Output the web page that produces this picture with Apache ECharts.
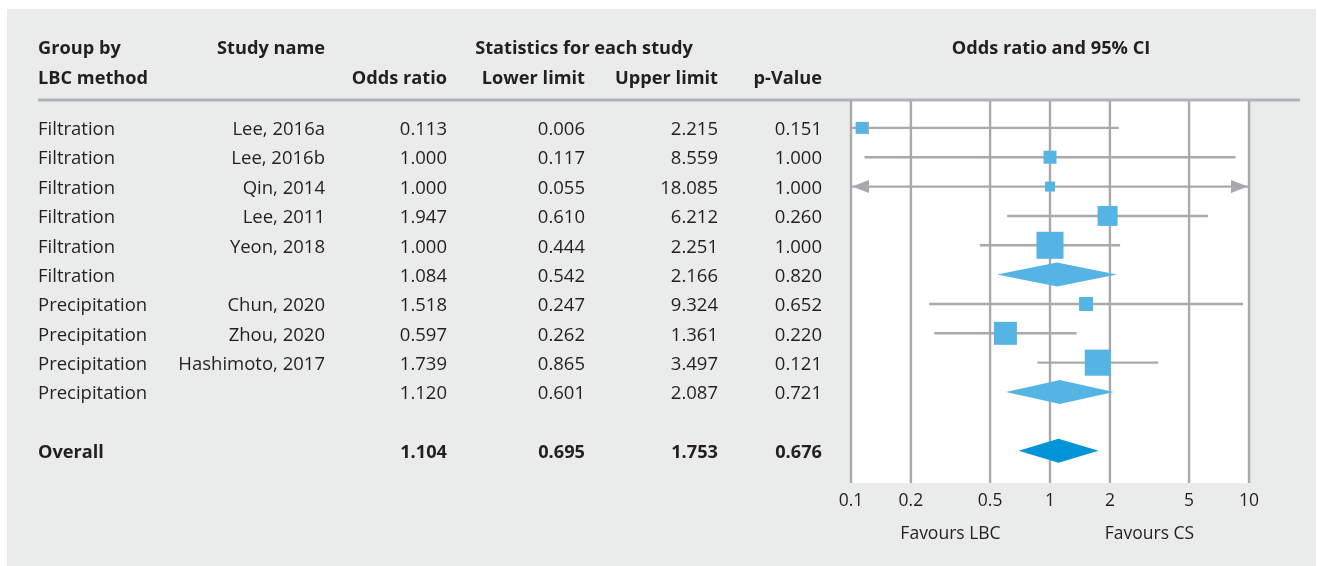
<!DOCTYPE html>
<html>
<head>
<meta charset="utf-8">
<script src="https://cdn.jsdelivr.net/npm/echarts@6/dist/echarts.min.js"></script>
<style>
  html, body { margin: 0; padding: 0; background: #fff; }
  #panel { position: absolute; left: 7px; top: 9px; width: 1309px; height: 557px; background: #eaebeb; }
  #forest { position: absolute; left: 0; top: 0; width: 1318px; height: 566px; }
</style>
</head>
<body>
<div id="panel"></div>
<div id="forest"></div>
<script>
// rows: 0..9 studies/subgroups, 10 empty, 11 overall
const groups = ['Filtration', 'Filtration', 'Filtration', 'Filtration', 'Filtration', 'Filtration',
  'Precipitation', 'Precipitation', 'Precipitation', 'Precipitation', '', 'Overall']
const studyNames = ['Lee, 2016a', 'Lee, 2016b', 'Qin, 2014', 'Lee, 2011', 'Yeon, 2018', '',
  'Chun, 2020', 'Zhou, 2020', 'Hashimoto, 2017', '', '', '']
const oddsRatio = [0.113, 1.000, 1.000, 1.947, 1.000, 1.084, 1.518, 0.597, 1.739, 1.120, null, 1.104]
const lowerLimit = [0.006, 0.117, 0.055, 0.610, 0.444, 0.542, 0.247, 0.262, 0.865, 0.601, null, 0.695]
const upperLimit = [2.215, 8.559, 18.085, 6.212, 2.251, 2.166, 9.324, 1.361, 3.497, 2.087, null, 1.753]
const pValue = [0.151, 1.000, 1.000, 0.260, 1.000, 0.820, 0.652, 0.220, 0.121, 0.721, null, 0.676]
// relative study weight (box area); 0 = summary row
const weights = [1.44, 1.69, 1.0, 4.0, 7.3, 0, 1.96, 5.3, 6.8, 0, 0, 0]
const summaryRows = [5, 9, 11]
const axisTicks = [0.1, 0.2, 0.5, 1, 2, 5, 10]

const TXT = '#231f20'
const GRIDC = '#a7a9ac'
const BOX = '#56b4e4'
const FONT = '"Open Sans", "Noto Sans", sans-serif'
const FS = 18.5
const FSB = 18.2

const fmt = v => v == null ? '' : v.toFixed(3)

const studyRows = []
const summaryData = []
oddsRatio.forEach((v, i) => {
  if (v == null) return
  if (summaryRows.indexOf(i) >= 0) summaryData.push([v, i, lowerLimit[i], upperLimit[i]])
  else studyRows.push([v, i, lowerLimit[i], upperLimit[i], weights[i]])
})

// table columns: [x, align, values]
const columns = [
  [38, 'left', groups],
  [325, 'right', studyNames],
  [447, 'right', oddsRatio.map(fmt)],
  [585, 'right', lowerLimit.map(fmt)],
  [718, 'right', upperLimit.map(fmt)],
  [822, 'right', pValue.map(fmt)]
]
const tableSeries = columns.map(col => ({
  type: 'custom',
  xAxisIndex: 1,
  yAxisIndex: 1,
  silent: true,
  data: col[2].map((t, i) => [col[0], i, t]),
  renderItem(params, api) {
    const p = api.coord([api.value(0), api.value(1)])
    const row = api.value(1)
    return {
      type: 'text',
      x: p[0],
      y: p[1] + 2,
      style: {
        text: col[2][params.dataIndex],
        fill: TXT,
        font: (row === 11 ? 'bold ' + FSB : FS) + 'px ' + FONT,
        textAlign: col[1],
        textVerticalAlign: 'middle'
      }
    }
  }
}))

const yCommon = { type: 'value', inverse: true, min: -0.95, max: 12.1, show: false }

const chartDom = echarts.init(document.getElementById('forest'))
const option = {
  animation: false,
  backgroundColor: 'transparent',
  grid: [
    { left: 851, width: 398, top: 100, height: 383, show: true, backgroundColor: '#fff', borderWidth: 0 },
    { left: 0, width: 1318, top: 100, height: 383, show: false }
  ],
  xAxis: [
    {
      type: 'log', logBase: 10, min: 0.1, max: 10, gridIndex: 0,
      axisLine: { show: false },
      axisTick: { show: false },
      splitLine: { show: false },
      axisLabel: {
        customValues: axisTicks,
        color: TXT, fontSize: 17.5, fontFamily: FONT, margin: 9,
        formatter: v => String(+v.toPrecision(3))
      }
    },
    { type: 'value', min: 0, max: 1318, gridIndex: 1, show: false }
  ],
  yAxis: [
    Object.assign({ gridIndex: 0 }, yCommon),
    Object.assign({ gridIndex: 1 }, yCommon)
  ],
  series: [
    {
      // vertical reference lines at tick values
      type: 'custom',
      silent: true,
      z: 1,
      data: axisTicks.map(v => [v, -0.95]),
      renderItem(params, api) {
        const top = api.coord([api.value(0), -0.95])
        const bot = api.coord([api.value(0), 12.1])
        return {
          type: 'line',
          shape: { x1: top[0], y1: top[1], x2: bot[0], y2: bot[1] },
          style: { stroke: GRIDC, lineWidth: 2.4 }
        }
      }
    },
    {
      // confidence intervals with arrows when off-scale
      type: 'custom',
      silent: true,
      z: 2,
      data: studyRows,
      renderItem(params, api) {
        const row = api.value(1)
        const lo = api.value(2)
        const hi = api.value(3)
        const a = api.coord([Math.max(lo, 0.1), row])
        const b = api.coord([Math.min(hi, 10), row])
        const kids = [{
          type: 'line',
          shape: { x1: a[0], y1: a[1], x2: b[0], y2: b[1] },
          style: { stroke: GRIDC, lineWidth: 2.4 }
        }]
        if (lo < 0.1) {
          kids.push({ type: 'polygon', shape: { points: [[a[0] + 1, a[1]], [a[0] + 18, a[1] - 6.5], [a[0] + 18, a[1] + 6.5]] }, style: { fill: GRIDC } })
        }
        if (hi > 10) {
          kids.push({ type: 'polygon', shape: { points: [[b[0] - 1, b[1]], [b[0] - 18, b[1] - 6.5], [b[0] - 18, b[1] + 6.5]] }, style: { fill: GRIDC } })
        }
        return { type: 'group', children: kids }
      }
    },
    {
      // study boxes, area proportional to weight
      type: 'scatter',
      silent: true,
      z: 3,
      symbol: 'rect',
      symbolSize: d => 10 * Math.sqrt(d[4]),
      itemStyle: { color: BOX, opacity: 1 },
      data: studyRows
    },
    {
      // pooled diamonds
      type: 'custom',
      silent: true,
      z: 3,
      data: summaryData,
      renderItem(params, api) {
        const row = api.value(1)
        const c = api.coord([api.value(0), row])
        const l = api.coord([api.value(2), row])
        const r = api.coord([api.value(3), row])
        const h = 12
        return {
          type: 'polygon',
          shape: { points: [[l[0], c[1]], [c[0], c[1] - h], [r[0], c[1]], [c[0], c[1] + h]] },
          style: { fill: row === 11 ? '#0094d9' : BOX }
        }
      }
    }
  ].concat(tableSeries)
}
chartDom.setOption(option, true)

const hdr = (text, x, y, align) => ({
  type: 'text', x, y,
  style: { text, fill: TXT, font: 'bold ' + FSB + 'px ' + FONT, textAlign: align, textVerticalAlign: 'middle' }
})
const lbc = chartDom.convertToPixel({ xAxisIndex: 0 }, Math.sqrt(0.1))
const cs = chartDom.convertToPixel({ xAxisIndex: 0 }, Math.sqrt(10))
chartDom.setOption({
  graphic: [
    hdr('Group by', 38, 49, 'left'),
    hdr('LBC method', 38, 79, 'left'),
    hdr('Study name', 325, 49, 'right'),
    hdr('Statistics for each study', 584, 49, 'center'),
    hdr('Odds ratio', 447, 79, 'right'),
    hdr('Lower limit', 585, 79, 'right'),
    hdr('Upper limit', 718, 79, 'right'),
    hdr('p-Value', 822, 79, 'right'),
    hdr('Odds ratio and 95% CI', 1051, 49, 'center'),
    { type: 'line', shape: { x1: 38, y1: 100, x2: 1300, y2: 100 }, style: { stroke: '#b1b3b6', lineWidth: 3 }, z: 10 },
    { type: 'text', x: lbc, y: 534, style: { text: 'Favours LBC', fill: TXT, font: '17.5px ' + FONT, textAlign: 'center', textVerticalAlign: 'middle' } },
    { type: 'text', x: cs, y: 534, style: { text: 'Favours CS', fill: TXT, font: '17.5px ' + FONT, textAlign: 'center', textVerticalAlign: 'middle' } }
  ]
})
</script>
</body>
</html>
